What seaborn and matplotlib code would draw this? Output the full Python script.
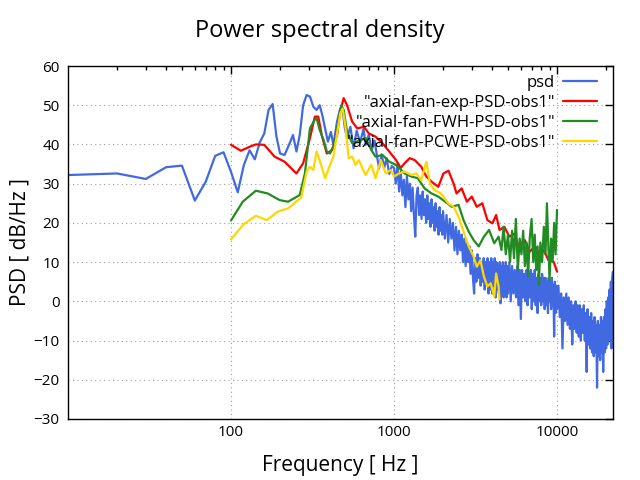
import matplotlib
matplotlib.use("Agg")
import matplotlib.pyplot as plt
import matplotlib.ticker as mticker
import seaborn as sns

# -------------------
# Data
# -------------------
psd_freq = [10, 20, 30, 40, 50, 60, 70, 80, 90, 100, 110, 120, 130, 140, 150,
            160, 170, 180, 190, 200, 213, 229, 240, 252, 264, 277, 291, 305,
            320, 335, 350, 363, 378, 393, 410, 425, 447, 468, 485, 500, 515,
            540, 565, 590, 620, 650, 670, 700, 730, 760, 790, 810, 840, 870,
            900, 935, 970,
            1000, 1025, 1050, 1075, 1100, 1125, 1150, 1175, 1200, 1225,
            1250, 1275, 1300, 1325, 1350, 1375, 1400, 1425, 1450, 1475,
            1500, 1525, 1550, 1575, 1600, 1625, 1650, 1675, 1700, 1725,
            1750, 1775, 1800, 1825, 1850, 1875, 1900, 1925, 1950, 1975,
            2000, 2050, 2100, 2150, 2200, 2250, 2300, 2350, 2400, 2450,
            2500, 2550, 2600, 2650, 2700, 2750, 2800, 2850, 2900, 2950,
            3000, 3050, 3100, 3150, 3200, 3250, 3300, 3350, 3400, 3450,
            3500, 3550, 3600, 3650, 3700, 3750, 3800, 3850, 3900, 3950,
            4000, 4050, 4100, 4150, 4200, 4250, 4300, 4350, 4400, 4450,
            4500, 4550, 4600, 4650, 4700, 4750, 4800, 4850, 4900, 4950,
            5000, 5100, 5200, 5300, 5400, 5500, 5600, 5700, 5800, 5900,
            6000, 6100, 6200, 6300, 6400, 6500, 6600, 6700, 6800, 6900,
            7000, 7100, 7200, 7300, 7400, 7500, 7600, 7700, 7800, 7900,
            8000, 8100, 8200, 8300, 8400, 8500, 8600, 8700, 8800, 8900,
            9000, 9100, 9200, 9300, 9400, 9500, 9600, 9700, 9800, 9900,
            10000, 10200, 10400, 10600, 10800, 11000, 11200, 11400, 11600, 11800,
            12000, 12200, 12400, 12600, 12800, 13000, 13200, 13400, 13600, 13800,
            14000, 14200, 14400, 14600, 14800, 15000, 15200, 15400, 15600, 15800,
            16000, 16200, 16400, 16600, 16800, 17000, 17200, 17400, 17600, 17800,
            18000, 18200, 18400, 18600, 18800, 19000, 19200, 19400, 19600, 19800,
            20000, 20200, 20400, 20600, 20800, 21000, 21200, 21400, 21600, 21800,
            22000]
psd_db = [32.2, 32.6, 31.2, 34.2, 34.6, 25.7, 30.5, 37.1, 38.0, 33.0, 27.8,
          34.8, 38.5, 36.2, 40.5, 42.8, 48.8, 50.3, 42.0, 37.7, 37.3, 40.3,
          42.4, 38.2, 42.4, 50.0, 52.6, 52.2, 49.6, 48.8, 50.0, 47.5, 44.1,
          40.7, 43.2, 39.9, 45.8, 49.2, 48.5, 44.0, 41.6, 44.5, 39.0, 43.5,
          40.5, 44.0, 39.9, 42.5, 38.5, 41.0, 36.5, 33.9, 37.5, 34.0, 36.5,
          32.5, 34.5,
          34, 30, 35, 28, 33, 27, 31, 24, 32, 26,
          30, 23, 29, 22, 16.5, 27, 29, 22, 27, 21,
          28, 22, 26, 20, 27, 21, 25, 19, 26, 20,
          24, 18, 25, 19, 23, 17, 24, 18, 22, 17,
          23, 16, 22, 15, 21, 16, 20, 13, 19, 12,
          18, 13, 17, 10, 16, 9, 15, 10, 14, 7,
          13, 6, 2, 11, 5, 12, 6, 11, 4, 10,
          5, 11, 3, 10, 4, 11, 2, 10, 3, 11,
          2, 10, 4, 11, 1, 10, 3, 9, 2, 10,
          -0.5, 9, 2, 10, 1, 9, 3, 10, 1, 9,
          2, 10, 0, 9, 2, 8, 1, 9, -1, 8,
          -4.5, 8, 1, 7, 0, 8, -1, 7, 1, 8,
          -2, 7, 0, 8, -1, 6, -3, 7, 0, 6,
          -1, 7, 0, 6, -2, 6, -1, 5, -3, 6,
          0, 5, -2, 6, -1, 4, -9, 5, -3, 4,
          -2, 4, -4, 2, -12, 1, -5, 2, -6, 1,
          -7, 0, -11, -1, -7, 0, -8, -1, -9, -1,
          -10, -2, -8, -1, -10, -3, -18, -2, -11, -4,
          -12, -3, -13, -5, -14, -4, -13, -6, -22, -5,
          -14, -6, -15, -4, -13, -5, -18, -4, -13, -2,
          -12, 0, -11, 1, -10, 3, -9, 5, -12, 6,
          7.5]

exp_freq = [100, 115, 130, 142, 160, 185, 213, 252, 277, 305, 327, 343, 360,
            387, 417, 447, 468, 491, 515, 554, 595, 655, 700, 770, 850, 935,
            1030, 1100, 1160, 1250, 1340, 1470, 1580, 1700, 1870, 2010, 2160,
            2320, 2420, 2600, 2800, 3000, 3220, 3480, 3740, 4020, 4230, 4440,
            4750, 5100, 5490, 5900, 6340, 6820, 7330, 7880, 8250, 8870, 9530,
            10000]
exp_db = [39.9, 38.4, 39.4, 40.0, 39.9, 36.9, 35.6, 32.6, 35.2, 41.6, 47.1,
          47.1, 42.4, 37.7, 38.6, 42.4, 48.4, 51.8, 50.0, 45.8, 44.1, 44.5,
          42.8, 42.0, 40.3, 38.2, 36.0, 34.0, 35.2, 36.5, 36.0, 34.3, 31.8,
          30.5, 29.2, 32.6, 33.3, 30.0, 27.5, 28.8, 25.4, 26.7, 24.1, 25.0,
          20.7, 19.9, 22.0, 18.2, 19.0, 16.5, 17.3, 13.1, 15.6, 12.7, 14.0,
          11.4, 13.1, 10.5, 10.1, 7.6]

fwh_freq = [100, 118, 142, 168, 199, 224, 264, 284, 305, 325, 335, 350, 370,
            387, 405, 430, 457, 475, 491, 515, 554, 625, 670, 725, 770, 850,
            935, 1030, 1160, 1280, 1400, 1540, 1700, 1870, 2060, 2260, 2490,
            2670, 2870, 3080, 3310, 3560, 3830, 4120, 4380, 4560, 4700, 4850,
            5000, 5150, 5300, 5450, 5590, 5750, 5900, 6050, 6200, 6350, 6500,
            6650, 6800, 6980, 7150, 7300, 7450, 7600, 7750, 7900, 8100, 8300,
            8500, 8670, 8850, 9000, 9200, 9400, 9600, 9800, 10000]
fwh_db = [20.6, 25.4, 28.2, 27.5, 25.8, 25.4, 27.1, 32.6, 44.1, 46.2, 46.7,
          43.7, 41.1, 38.2, 37.7, 39.9, 46.2, 50.0, 48.8, 43.2, 40.3, 41.1,
          41.6, 38.6, 36.9, 37.3, 35.6, 34.8, 32.6, 31.8, 31.4, 28.8, 27.5,
          26.7, 25.4, 24.1, 24.6, 20.7, 17.8, 15.6, 14.0, 16.5, 18.2, 14.8,
          16.5, 13.1, 19.0, 12.0, 17.0, 10.0, 18.0, 11.0, 21.0, 8.0, 16.0,
          12.0, 18.0, 9.0, 15.0, 6.3, 16.0, 21.0, 10.0, 17.0, 8.0, 14.0, 4.2,
          15.0, 10.0, 19.0, 12.0, 25.0, 14.0, 5.4, 16.0, 10.0, 20.0, 12.0,
          23.3]

pcwe_freq = [100, 120, 142, 166, 194, 224, 270, 291, 305, 320, 335, 357, 378,
             405, 425, 447, 468, 484, 502, 527, 554, 580, 610, 640, 670, 725,
             770, 830, 890, 955, 1000, 1070, 1160, 1280, 1370, 1470, 1580,
             1660, 1770, 1940, 2150, 2320, 2490, 2670, 2870, 3080, 3220, 3390,
             3560, 3740, 3920, 4120, 4230, 4380, 4440]
pcwe_db = [15.8, 19.7, 21.8, 20.7, 22.9, 23.7, 26.5, 33.1, 34.3, 33.5, 38.2,
           34.8, 31.4, 34.8, 36.9, 42.8, 47.9, 49.2, 45.0, 36.5, 36.9, 34.8,
           36.0, 33.9, 32.2, 34.8, 31.4, 36.0, 32.6, 33.5, 31.8, 32.6, 33.1,
           32.2, 32.6, 30.9, 35.6, 30.0, 28.4, 27.5, 25.0, 24.1, 21.6, 17.8,
           14.0, 11.4, 8.8, 10.5, 6.3, 3.8, 4.6, 1.2, 7.1, 3.8, 0.5]

series = [
    ("psd", psd_freq, psd_db, "#4169e1"),
    ('"axial-fan-exp-PSD-obs1"', exp_freq, exp_db, "#ff0000"),
    ('"axial-fan-FWH-PSD-obs1"', fwh_freq, fwh_db, "#228b22"),
    ('"axial-fan-PCWE-PSD-obs1"', pcwe_freq, pcwe_db, "#ffd700"),
]

# -------------------
# Plot
# -------------------
sns.set_theme(style="white")
plt.rcParams['font.family'] = ['Open Sans', 'DejaVu Sans']
plt.rcParams['text.color'] = 'black'
plt.rcParams['axes.labelcolor'] = 'black'

fig = plt.figure(figsize=(6.4, 4.8), dpi=100)
ax = fig.add_axes([68 / 640, 1 - 419 / 480, 545 / 640, 353 / 480])

for name, f, v, col in series:
    sns.lineplot(x=f, y=v, ax=ax, color=col, label=name, linewidth=1.6,
                 sort=False, estimator=None)

ax.set_xscale("log")
ax.set_xlim(10, 22050)
ax.set_ylim(-30, 60)
ax.set_xticks([100, 1000, 10000])
ax.xaxis.set_major_formatter(mticker.FuncFormatter(lambda x, p: f"{int(x)}"))
ax.xaxis.set_minor_locator(mticker.LogLocator(base=10, subs=range(2, 10), numticks=20))
ax.xaxis.set_minor_formatter(mticker.NullFormatter())
ax.set_yticks(range(-30, 61, 10))

ax.tick_params(which="both", direction="in", top=True, right=True,
               labelsize=11, colors="black")
ax.tick_params(axis="x", which="major", length=6, width=1, pad=4)
ax.tick_params(axis="y", which="major", length=6, width=1, pad=6)
ax.tick_params(which="minor", length=3, width=1)
ax.grid(True, which="major", linestyle=(0, (1, 3)), color="#a0a0a0", linewidth=0.8)
for sp in ax.spines.values():
    sp.set_color("black")
    sp.set_linewidth(1)

ax.set_xlabel("Frequency [ Hz ]", fontsize=15, labelpad=11)
ax.set_ylabel("PSD [ dB/Hz ]", fontsize=15, labelpad=2)
fig.suptitle("Power spectral density", fontsize=17, y=0.96, color="black")

ax.legend(loc="upper right", bbox_to_anchor=(0.97, 0.975), frameon=False,
          markerfirst=False, fontsize=12, handlelength=2.0, handletextpad=0.5,
          labelspacing=0.25, borderpad=0, borderaxespad=0)

fig.savefig("out.png", dpi=100)
